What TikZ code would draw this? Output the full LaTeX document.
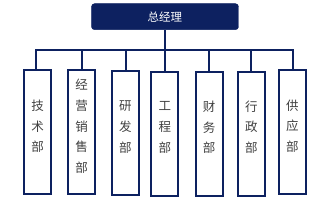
\documentclass[tikz,border=0pt]{standalone}
\usepackage{fontspec}
\newfontfamily\cjk{Noto Sans CJK SC}
\definecolor{navy}{HTML}{0D2160}
\definecolor{txt}{HTML}{404040}
\begin{document}
\begin{tikzpicture}[x=1pt,y=-1pt,
  dept/.style={draw=navy,line width=2pt,fill=white,minimum width=27pt,inner sep=0pt},
  lbl/.style={font=\cjk\fontsize{12.5}{20.7}\selectfont,text=txt,align=center,inner sep=0pt},
  conn/.style={draw=navy,line width=2pt}]
\useasboundingbox (0,0) rectangle (317,205);
\node[fill=navy,draw=navy,rounded corners=3pt,minimum width=147pt,minimum height=26pt,inner sep=0pt,
  font=\cjk\fontsize{11.5}{13}\selectfont,text=white] (gm) at (165,16.7) {总经理};
\coordinate (busL) at (36,50);
\coordinate (busR) at (293.3,50);
\node[dept,minimum height=124pt] (b1) at (37.6,132.5) {};
\node[dept,minimum height=124pt] (b2) at (81.7,132.5) {};
\node[dept,minimum height=124pt] (b3) at (125.5,133.5) {};
\node[dept,minimum height=124pt] (b4) at (165,134.5) {};
\node[dept,minimum height=124pt] (b5) at (209.2,134.2) {};
\node[dept,minimum height=124pt] (b6) at (251.5,133.8) {};
\node[dept,minimum height=124pt] (b7) at (292.5,131.7) {};
\node[lbl] (t1) at (37.6,126.5) {技\\术\\部};
\node[lbl] (t2) at (81.7,126.5) {经\\营\\销\\售\\部};
\node[lbl] (t3) at (125.5,127) {研\\发\\部};
\node[lbl] (t4) at (165,127.5) {工\\程\\部};
\node[lbl] (t5) at (209.2,127.5) {财\\务\\部};
\node[lbl] (t6) at (251.5,127) {行\\政\\部};
\node[lbl] (t7) at (292.5,126) {供\\应\\部};
\draw[conn] (gm.south) -- (b4.north);
\draw[conn,line cap=rect] (busL) -- (busR);
\foreach \i/\x in {1/36,2/81.7,3/125.7,5/209.3,6/250.7,7/293.3}{
  \draw[conn] (\x,50) -- (b\i.north -| \x,0);
}
\end{tikzpicture}
\end{document}
